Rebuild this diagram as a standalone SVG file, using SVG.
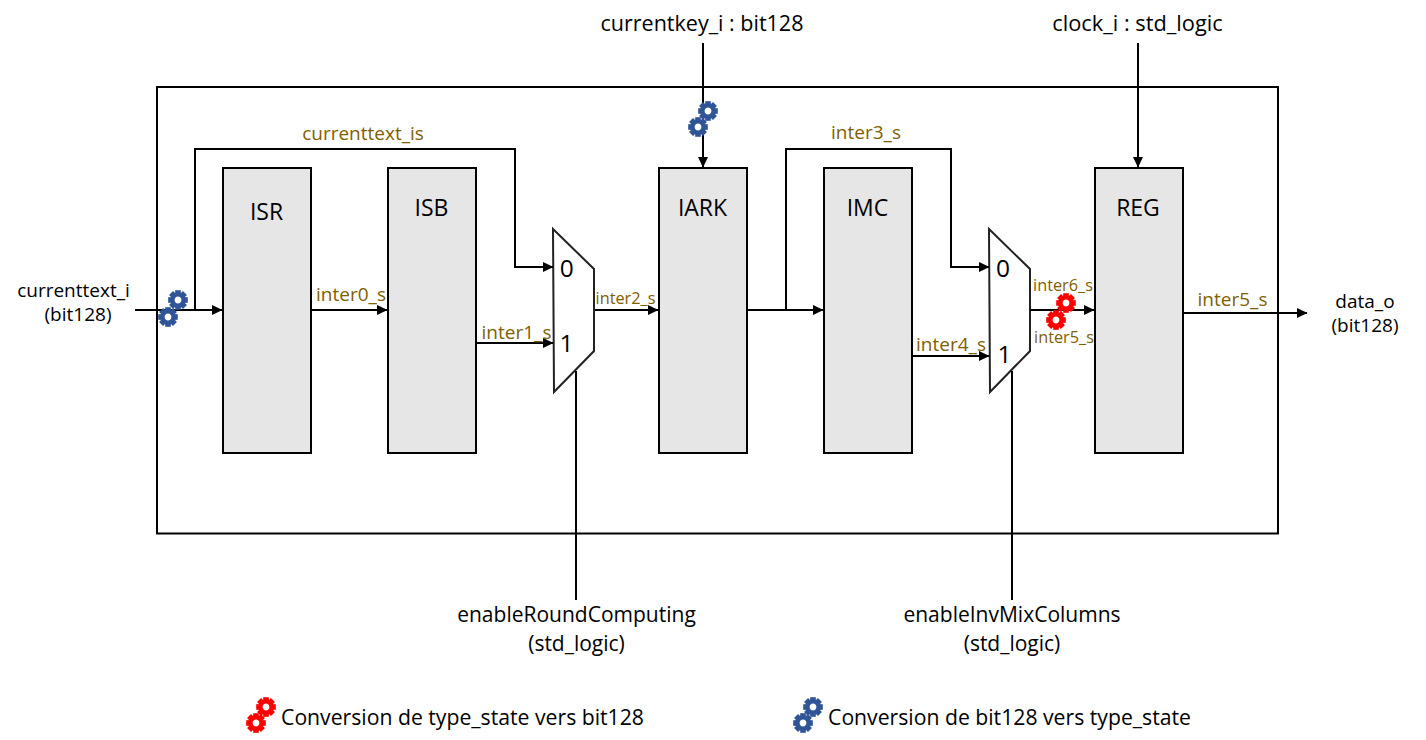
<svg xmlns="http://www.w3.org/2000/svg" xmlns:xlink="http://www.w3.org/1999/xlink" width="1426" height="740" viewBox="0 0 1426 740">
<style>
text{font-family:"Open Sans","Noto Sans","DejaVu Sans",sans-serif}
.b{fill:#e6e6e6;stroke:#000;stroke-width:2}
.t{font-size:21.500px;fill:#000;text-anchor:middle}
.e{font-size:21px;fill:#000;text-anchor:middle}
.n{font-size:23px;fill:#000;text-anchor:middle}
.l{font-size:19px;fill:#7f6000;text-anchor:middle}
.s{font-size:16.300px;fill:#7f6000;text-anchor:middle}
.m{font-size:24.500px;fill:#000;text-anchor:middle}
.k{font-size:19px;fill:#000;text-anchor:middle}
.w{fill:none;stroke:#000;stroke-width:2}
.a{marker-end:url(#ar)}
.mux{fill:#fff;stroke:#222;stroke-width:2}
</style>
<defs>
<marker id="ar" markerUnits="userSpaceOnUse" markerWidth="11" markerHeight="10" refX="10" refY="5" orient="auto"><path d="M0 0L10.500 5L0 10Z" fill="#000"/></marker>
<g id="gear">
<g fill="currentColor">
<rect x="-2.800" y="-9.800" width="5.600" height="19.600"/>
<rect x="-2.800" y="-9.800" width="5.600" height="19.600" transform="rotate(45)"/>
<rect x="-2.800" y="-9.800" width="5.600" height="19.600" transform="rotate(90)"/>
<rect x="-2.800" y="-9.800" width="5.600" height="19.600" transform="rotate(135)"/>
</g>
<circle r="5.600" fill="#fff" stroke="currentColor" stroke-width="4.400"/>
</g>
</defs>
<rect id="frame" x="157" y="87" width="1121" height="446.500" fill="#fff" stroke="#000" stroke-width="2"/>
<g id="isr"><rect class="b" x="223" y="168" width="88" height="285"/><text class="n" x="266.500" y="220">ISR</text></g>
<g id="isb"><rect class="b" x="388" y="168" width="88" height="285"/><text class="n" x="431.500" y="216">ISB</text></g>
<g id="iark"><rect class="b" x="659" y="168" width="88" height="285"/><text class="n" x="702.500" y="216">IARK</text></g>
<g id="imc"><rect class="b" x="824" y="168" width="88" height="285"/><text class="n" x="867.500" y="216">IMC</text></g>
<g id="reg"><rect class="b" x="1095" y="168" width="88" height="285"/><text class="n" x="1138" y="216">REG</text></g>
<g id="mux0"><path class="mux" d="M553 229L594 269V351L554 392Z"/><text class="m" x="566.700" y="277">0</text><text class="m" x="566.500" y="352">1</text></g>
<g id="mux1"><path class="mux" d="M989 229L1030 269V351L990 392Z"/><text class="m" x="1003" y="277">0</text><text class="m" x="1004.500" y="363">1</text></g>
<g id="connectors">
<path class="w a" d="M135 310H222"/>
<path class="w a" d="M195 310V149H515V267H553"/>
<path class="w a" d="M311 310H387"/>
<path class="w a" d="M476 343H553"/>
<path class="w a" d="M595 310H658"/>
<path class="w a" d="M703 43V167"/>
<path class="w a" d="M747 310H823"/>
<path class="w a" d="M786 310V149H951V267H989"/>
<path class="w a" d="M912 356H989"/>
<path class="w a" d="M1030 310H1094"/>
<path class="w a" d="M1138 43V167"/>
<path class="w a" d="M1183 313H1307"/>
<path class="w" d="M576 371V600"/>
<path class="w" d="M1012 371V600"/>
</g>
<g id="labels">
<text class="l" x="363" y="140">currenttext_is</text>
<text class="l" x="351" y="301">inter0_s</text>
<text class="l" x="516.500" y="339">inter1_s</text>
<text class="s" x="625.500" y="304">inter2_s</text>
<text class="l" x="866" y="139">inter3_s</text>
<text class="l" x="951" y="351">inter4_s</text>
<text class="s" x="1063" y="291">inter6_s</text>
<text class="s" x="1064" y="343">inter5_s</text>
<text class="l" x="1232.500" y="306">inter5_s</text>
</g>
<g id="io">
<text class="k" x="73.500" y="297">currenttext_i</text><text class="k" x="78" y="321">(bit128)</text>
<text class="t" x="702" y="31">currentkey_i : bit128</text>
<text class="t" x="1137.500" y="31" style="font-size:21.800px">clock_i : std_logic</text>
<text class="k" x="1365" y="307.500">data_o</text><text class="k" x="1365" y="331.500">(bit128)</text>
<text class="e" x="576.500" y="622">enableRoundComputing</text><text class="e" x="576.500" y="651">(std_logic)</text>
<text class="e" x="1012" y="622">enableInvMixColumns</text><text class="e" x="1012" y="651">(std_logic)</text>
</g>
<g id="gears-blue" color="#2f5597">
<use href="#gear" x="178" y="300"/><use href="#gear" x="168" y="317"/>
<use href="#gear" x="708" y="111"/><use href="#gear" x="698" y="127"/>
</g>
<g id="gears-red" color="#ff0000">
<use href="#gear" x="1066" y="303"/><use href="#gear" x="1056" y="320"/>
</g>
<g id="legend-red" color="#ff0000"><use href="#gear" x="266" y="707"/><use href="#gear" x="256" y="723"/><text class="e" x="462.500" y="725" style="font-size:21.200px">Conversion de type_state vers bit128</text></g>
<g id="legend-blue" color="#2f5597"><use href="#gear" x="813" y="707"/><use href="#gear" x="803" y="723"/><text class="e" x="1009.500" y="725" style="font-size:21.200px">Conversion de bit128 vers type_state</text></g>
</svg>
